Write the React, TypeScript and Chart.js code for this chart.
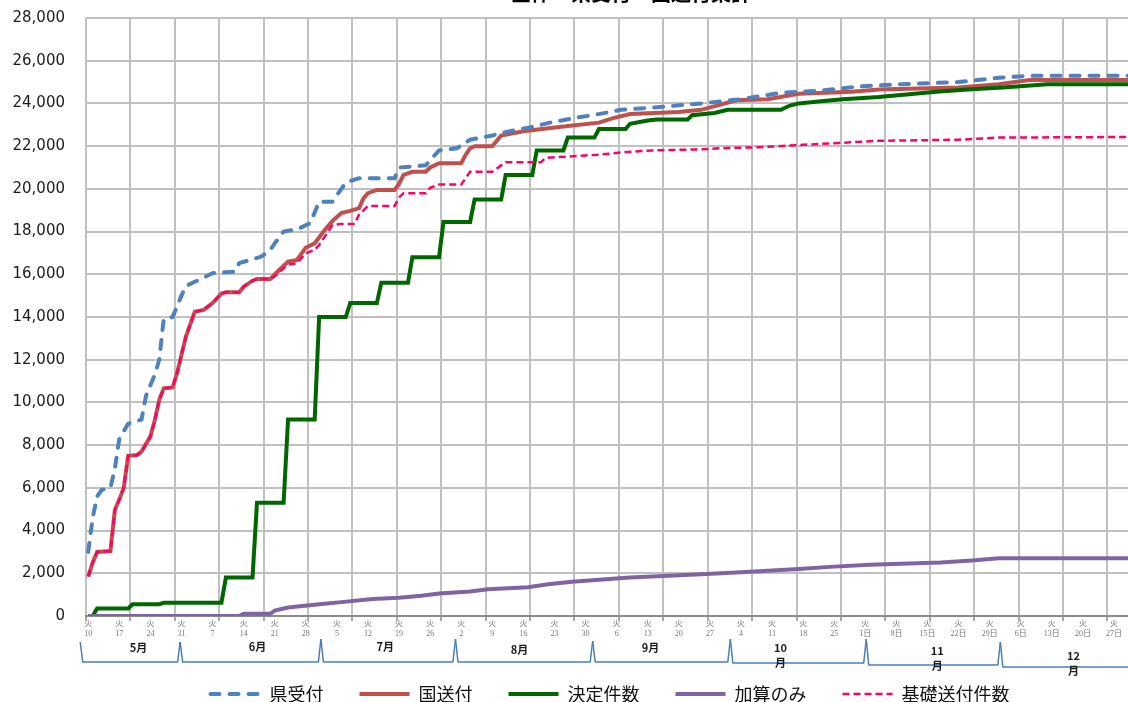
import React, { useEffect, useRef } from 'react';
import { Chart, registerables } from 'chart.js';

Chart.register(...registerables);

const chartTitle = '全体・県受付・国送付集計';
const seriesNames = ['県受付', '国送付', '決定件数', '加算のみ', '基礎送付件数'];

// x values are days counted from Tuesday 10 May
const X_MIN = -0.5;
const X_MAX = 235.5;
const weekTickLabels = ['10', '17', '24', '31', '7', '14', '21', '28', '5', '12', '19', '26', '2', '9', '16', '23', '30', '6', '13', '20', '27', '4', '11', '18', '25', '1日', '8日', '15日', '22日', '29日', '6日', '13日', '20日', '27日'];
const monthNames = ['5月', '6月', '7月', '8月', '9月', '10月', '11月', '12月'];
const monthEdgeDays = [-1.8, 20.7, 52.4, 82.7, 113.6, 144.6, 175.2, 205.4, 250];
const monthLabelDays = [11.3, 38.1, 66.9, 97.1, 126.6, 155.9, 191.2, 221.9];

// 県受付
const kenDays = [0, 1, 2, 3, 5, 6, 7, 9, 12, 13, 15, 16, 17, 19, 20, 21, 22, 24, 28, 31, 33, 34, 39, 41, 42, 44, 47, 50, 52, 55, 58, 61, 69, 70, 76, 79, 83, 86, 91, 95, 100, 104, 109, 115, 120, 127, 138, 147, 156, 165, 174, 183, 196, 205, 212, 235];
const kenValues = [3000, 4600, 5600, 5900, 6000, 6900, 8300, 9000, 9200, 10300, 11300, 12000, 13900, 14000, 14500, 15000, 15450, 15650, 16050, 16100, 16120, 16520, 16830, 17140, 17450, 18000, 18100, 18400, 19400, 19400, 20300, 20500, 20500, 21000, 21100, 21800, 21900, 22300, 22500, 22700, 22900, 23100, 23300, 23500, 23700, 23800, 24000, 24200, 24500, 24600, 24800, 24900, 25000, 25200, 25300, 25300];

// 国送付
const kokuDays = [0, 1, 2, 5, 6, 7, 8, 9, 11, 12, 14, 15, 16, 17, 19, 20, 22, 24, 26, 28, 30, 31, 34, 35, 37, 38, 41, 43, 45, 47, 49, 51, 53, 55, 57, 59, 61, 62, 63, 65, 69, 70, 71, 73, 76, 77, 79, 84, 85, 86, 87, 91, 93, 98, 106, 115, 118, 122, 133, 138, 146, 153, 160, 172, 178, 187, 196, 205, 212, 235];
const kokuValues = [1840, 2500, 3000, 3040, 4960, 5450, 6000, 7500, 7540, 7700, 8400, 9180, 10120, 10660, 10700, 11370, 13080, 14250, 14330, 14650, 15100, 15160, 15160, 15420, 15700, 15780, 15780, 16200, 16590, 16670, 17250, 17450, 18000, 18500, 18870, 18970, 19100, 19570, 19800, 19950, 19950, 20230, 20650, 20800, 20800, 21000, 21200, 21200, 21600, 21900, 22000, 22000, 22500, 22700, 22900, 23100, 23300, 23500, 23600, 23700, 24150, 24200, 24450, 24550, 24650, 24700, 24750, 24900, 25100, 25100];

// 決定件数
const ketteiDays = [0, 1, 2, 9, 10, 16, 17, 30, 31, 37, 38, 44, 45, 51, 52, 58, 59, 65, 66, 72, 73, 79, 80, 86, 87, 93, 94, 100, 101, 107, 108, 114, 115, 121, 122, 126, 128, 135, 136, 141, 144, 156, 158, 160, 165, 170, 178, 183, 191, 198, 206, 216, 235];
const ketteiValues = [0, 0, 350, 350, 550, 550, 620, 620, 1800, 1800, 5300, 5300, 9200, 9200, 14000, 14000, 14650, 14650, 15600, 15600, 16800, 16800, 18450, 18450, 19500, 19500, 20650, 20650, 21800, 21800, 22400, 22400, 22800, 22800, 23050, 23200, 23250, 23250, 23450, 23550, 23700, 23700, 23900, 24000, 24100, 24200, 24300, 24400, 24550, 24650, 24750, 24900, 24900];

// 加算のみ
const kasanDays = [0, 34, 35, 41, 42, 45, 52, 57, 64, 70, 75, 79, 86, 90, 99, 104, 109, 115, 122, 127, 138, 147, 151, 160, 167, 176, 183, 192, 199, 205, 235];
const kasanValues = [0, 0, 100, 100, 250, 400, 550, 650, 800, 850, 950, 1050, 1150, 1250, 1350, 1500, 1600, 1700, 1800, 1850, 1950, 2050, 2100, 2200, 2300, 2400, 2450, 2500, 2600, 2700, 2700];

// 基礎送付件数
const kisoDays = [0, 1, 2, 5, 6, 7, 8, 9, 11, 12, 14, 15, 16, 17, 19, 20, 22, 24, 26, 28, 30, 31, 34, 35, 37, 38, 41, 42, 43, 45, 47, 49, 51, 52, 55, 57, 60, 61, 63, 69, 70, 71, 76, 77, 79, 84, 85, 86, 91, 93, 94, 102, 103, 111, 115, 120, 127, 138, 142, 151, 160, 169, 178, 196, 205, 235];
const kisoValues = [1840, 2500, 3000, 3040, 4960, 5450, 6000, 7500, 7540, 7700, 8400, 9180, 10120, 10660, 10700, 11370, 13080, 14250, 14330, 14650, 15100, 15160, 15160, 15420, 15700, 15780, 15780, 15900, 16100, 16450, 16520, 16990, 17140, 17370, 18300, 18360, 18360, 18800, 19200, 19200, 19600, 19800, 19800, 20050, 20200, 20200, 20500, 20800, 20800, 21100, 21250, 21250, 21450, 21550, 21600, 21700, 21800, 21850, 21900, 21950, 22050, 22150, 22250, 22300, 22400, 22430];

const toPoints = (days: number[], values: number[]) => days.map((d, i) => ({ x: d, y: values[i] }));

const CJK = '"Noto Sans CJK JP", "Noto Sans", sans-serif';

const titlePlugin = {
  id: 'offsetTitle',
  afterDraw(chart: any) {
    const { ctx, chartArea } = chart;
    ctx.save();
    ctx.fillStyle = '#000';
    ctx.font = 'bold 20px ' + CJK;
    ctx.textAlign = 'center';
    ctx.textBaseline = 'middle';
    ctx.fillText(chartTitle, chartArea.left + 545, chartArea.top - 25);
    ctx.restore();
  },
};

const monthBracketPlugin = {
  id: 'monthBrackets',
  afterDraw(chart: any) {
    const { ctx, chartArea, scales } = chart;
    const xs = scales.x;
    const b = chartArea.bottom;
    const drops = [46, 46, 46, 46, 46, 47, 49, 51];
    const tops = [26, 26, 23, 23, 25, 23, 23, 26, 26];
    const labelOffsets = [32, 31, 31, 34, 32, 32, 35, 40];
    ctx.save();
    ctx.strokeStyle = '#4a7ebb';
    ctx.lineWidth = 1.5;
    ctx.lineJoin = 'round';
    for (let i = 0; i < monthNames.length; i++) {
      const x0 = xs.getPixelForValue(monthEdgeDays[i]);
      const x1 = xs.getPixelForValue(monthEdgeDays[i + 1]);
      ctx.beginPath();
      ctx.moveTo(x0, b + tops[i]);
      ctx.lineTo(x0 + 2.5, b + drops[i]);
      ctx.lineTo(x1 - 2.5, b + drops[i]);
      ctx.lineTo(x1, b + tops[i + 1]);
      ctx.stroke();
    }
    ctx.fillStyle = '#1a1a1a';
    ctx.font = 'bold 11px ' + CJK;
    ctx.textAlign = 'center';
    ctx.textBaseline = 'middle';
    monthNames.forEach((m, i) => {
      const x = xs.getPixelForValue(monthLabelDays[i]);
      const lines = m.length > 2 ? [m.slice(0, m.length - 1), m.slice(m.length - 1)] : [m];
      lines.forEach((ln, k) => ctx.fillText(ln, x, b + labelOffsets[i] + k * 15));
    });
    ctx.restore();
  },
};

export default function App() {
  const ref = useRef<HTMLCanvasElement | null>(null);

  useEffect(() => {
    if (!ref.current) return;
    const chart = new Chart(ref.current, {
      type: 'line',
      data: {
        datasets: [
          {
            label: seriesNames[0],
            data: toPoints(kenDays, kenValues),
            borderColor: '#4f81bd',
            backgroundColor: '#4f81bd',
            borderWidth: 4,
            borderDash: [9, 10],
            borderCapStyle: 'round',
            pointRadius: 0,
            order: 2,
          },
          {
            label: seriesNames[1],
            data: toPoints(kokuDays, kokuValues),
            borderColor: '#c0504d',
            backgroundColor: '#c0504d',
            borderWidth: 4,
            pointRadius: 0,
            order: 5,
          },
          {
            label: seriesNames[2],
            data: toPoints(ketteiDays, ketteiValues),
            borderColor: '#006600',
            backgroundColor: '#006600',
            borderWidth: 4,
            pointRadius: 0,
            order: 4,
          },
          {
            label: seriesNames[3],
            data: toPoints(kasanDays, kasanValues),
            borderColor: '#8064a2',
            backgroundColor: '#8064a2',
            borderWidth: 4,
            pointRadius: 0,
            order: 3,
          },
          {
            label: seriesNames[4],
            data: toPoints(kisoDays, kisoValues),
            borderColor: '#ff0066',
            backgroundColor: '#ff0066',
            borderWidth: 2.5,
            borderDash: [7, 4],
            pointRadius: 0,
            order: 1,
          },
        ],
      },
      options: {
        animation: false,
        responsive: false,
        events: [],
        layout: { padding: { top: 44, left: 0, right: 0, bottom: 0 } },
        elements: { line: { tension: 0 } },
        scales: {
          x: {
            type: 'linear',
            min: X_MIN,
            max: X_MAX,
            afterBuildTicks: (scale: any) => {
              const t: any[] = [];
              for (let v = X_MIN; v <= X_MAX; v += 10) t.push({ value: v, isGrid: true, wk: '' });
              weekTickLabels.forEach((l, i) => t.push({ value: i * 7, isGrid: false, wk: l }));
              t.sort((a, b) => a.value - b.value);
              scale.ticks = t;
            },
            afterFit: (scale: any) => {
              scale.height = 33;
            },
            ticks: {
              autoSkip: false,
              maxRotation: 0,
              minRotation: 0,
              padding: -2,
              color: '#777',
              font: { family: '"Liberation Serif", "Noto Sans CJK JP", serif', size: 8, lineHeight: 1.25 },
              callback: (_v: any, i: number, ticks: any[]) => (ticks[i].isGrid ? '' : ['火', ticks[i].wk]),
            },
            grid: {
              color: (c: any) => (c.tick && c.tick.isGrid ? '#c0c0c0' : 'rgba(0,0,0,0)'),
              tickColor: (c: any) => (c.tick && c.tick.isGrid ? '#8c8c8c' : 'rgba(0,0,0,0)'),
              lineWidth: 2,
              tickLength: 5,
              tickWidth: 1.5,
            },
            border: { display: true, color: '#8c8c8c', width: 2 },
          },
          y: {
            min: 0,
            max: 28000,
            afterFit: (scale: any) => {
              scale.width = 86;
            },
            ticks: {
              stepSize: 2000,
              padding: 21,
              color: '#1a1a1a',
              font: { family: '"DejaVu Sans", sans-serif', size: 15 },
              callback: (v: any) => Number(v).toLocaleString('en-US'),
            },
            grid: { color: '#c0c0c0', lineWidth: 2, drawTicks: false },
            border: { display: false },
          },
        },
        plugins: {
          title: { display: false },
          legend: {
            display: true,
            position: 'bottom',
            fullSize: false,
            labels: {
              usePointStyle: true,
              pointStyle: 'line',
              pointStyleWidth: 50,
              padding: 36,
              color: '#111',
              font: { family: CJK, size: 18 },
              generateLabels: (ch: any) =>
                ch.data.datasets.map((ds: any, i: number) => ({
                  text: ds.label,
                  datasetIndex: i,
                  fillStyle: ds.borderColor,
                  strokeStyle: ds.borderColor,
                  lineWidth: ds.borderWidth,
                  lineDash: ds.borderDash || [],
                  lineCap: ds.borderCapStyle || 'butt',
                  pointStyle: 'line',
                  hidden: false,
                  fontColor: '#111',
                })),
            },
          },
          tooltip: { enabled: false },
        },
      },
      plugins: [titlePlugin, monthBracketPlugin],
    } as any);
    return () => chart.destroy();
  }, []);

  return (
    <div style={{ position: 'fixed', left: 0, top: 0, width: 1128, height: 702, overflow: 'hidden', background: '#fff' }}>
      <canvas ref={ref} width={1134} height={739} style={{ position: 'absolute', left: 0, top: -26, width: 1134, height: 739 }} />
    </div>
  );
}
